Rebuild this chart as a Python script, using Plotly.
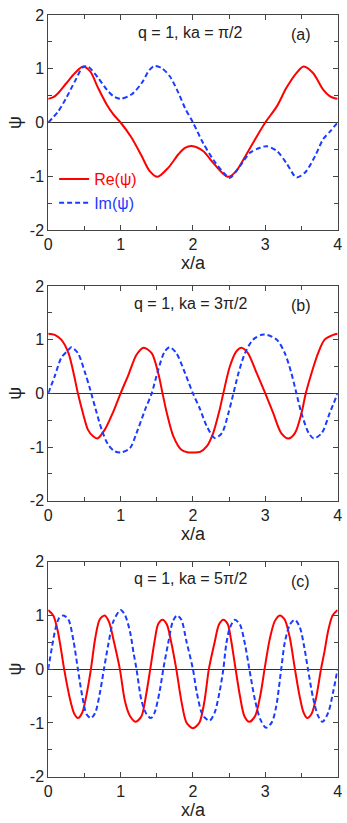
import plotly.graph_objects as go
from plotly.subplots import make_subplots

RED = "#ff0000"
BLUE = "#1a3cff"
FRAME = "#444444"
FONT = "Arial, 'Liberation Sans', sans-serif"

# ── panel (a): q = 1, ka = pi/2 ─────────────────────────────────────────────
A_RE_X = [0, 0.07, 0.14, 0.25, 0.37, 0.48, 0.58, 0.69, 0.81, 0.9,
          1.0, 1.15, 1.29, 1.4, 1.51, 1.66, 1.8, 1.89, 2.0,
          2.14, 2.28, 2.4, 2.49, 2.6, 2.74, 2.86, 3.0,
          3.16, 3.29, 3.43, 3.53, 3.66, 3.8, 3.89, 3.96, 4.0]
A_RE_Y = [0.44, 0.47, 0.55, 0.73, 0.92, 1.04, 0.95, 0.64, 0.33, 0.15,
          0.0, -0.28, -0.62, -0.9, -1.01, -0.84, -0.59, -0.47, -0.44,
          -0.53, -0.75, -0.93, -1.01, -0.9, -0.59, -0.31, 0.0,
          0.30, 0.64, 0.92, 1.04, 0.92, 0.61, 0.49, 0.45, 0.44]
A_IM_X = [0, 0.14, 0.25, 0.37, 0.48, 0.55, 0.69, 0.81, 0.9, 1.0,
          1.15, 1.29, 1.4, 1.47, 1.57, 1.68, 1.8, 1.89, 2.0,
          2.14, 2.28, 2.42, 2.51, 2.65, 2.79, 2.93, 3.02,
          3.16, 3.29, 3.43, 3.55, 3.69, 3.8, 3.9, 4.0]
A_IM_Y = [0, 0.21, 0.46, 0.77, 1.03, 1.04, 0.83, 0.61, 0.49, 0.44,
          0.52, 0.73, 0.98, 1.05, 1.01, 0.86, 0.55, 0.27, 0,
          -0.38, -0.69, -0.93, -1.03, -0.81, -0.56, -0.47, -0.44,
          -0.53, -0.75, -1.02, -0.93, -0.62, -0.31, -0.16, 0]

# ── panel (b): q = 1, ka = 3pi/2 ────────────────────────────────────────────
B_RE_X = [0, 0.09, 0.18, 0.28, 0.35, 0.41, 0.48, 0.55, 0.62, 0.68,
          0.78, 0.9, 1.0, 1.11, 1.22, 1.32, 1.43, 1.52, 1.58, 1.64,
          1.73, 1.84, 1.94, 2.0, 2.1, 2.19, 2.28, 2.37, 2.42, 2.51,
          2.6, 2.67, 2.76, 2.88, 3.0, 3.11, 3.22, 3.32, 3.41, 3.5,
          3.56, 3.64, 3.73, 3.82, 3.94, 4.0]
B_RE_Y = [1.11, 1.09, 1.0, 0.75, 0.38, 0, -0.37, -0.68, -0.80, -0.84,
          -0.68, -0.34, 0, 0.35, 0.72, 0.85, 0.75, 0.38, 0, -0.37,
          -0.80, -1.05, -1.10, -1.10, -1.09, -0.99, -0.74, -0.30, 0, 0.5,
          0.78, 0.85, 0.75, 0.38, 0, -0.37, -0.74, -0.84, -0.74, -0.37,
          0, 0.38, 0.75, 1.0, 1.09, 1.11]
B_IM_X = [0, 0.09, 0.18, 0.28, 0.32, 0.41, 0.51, 0.58, 0.65, 0.74,
          0.83, 0.92, 1.01, 1.13, 1.22, 1.34, 1.43, 1.52, 1.61, 1.68,
          1.77, 1.89, 2.0, 2.1, 2.19, 2.3, 2.4, 2.49, 2.56, 2.63,
          2.72, 2.83, 2.95, 3.02, 3.16, 3.27, 3.36, 3.43, 3.5, 3.6,
          3.67, 3.78, 3.89, 4.0]
B_IM_Y = [0, 0.32, 0.66, 0.81, 0.86, 0.75, 0.38, 0.07, -0.27, -0.68,
          -0.96, -1.08, -1.10, -1.02, -0.74, -0.30, 0, 0.44, 0.78, 0.86,
          0.75, 0.38, 0, -0.30, -0.61, -0.83, -0.74, -0.37, 0, 0.38,
          0.75, 1.0, 1.09, 1.09, 1.0, 0.75, 0.38, 0, -0.37, -0.74,
          -0.84, -0.74, -0.37, 0]

# ── panel (c): q = 1, ka = 5pi/2 ────────────────────────────────────────────
C_RE_X = [0, 0.07, 0.13, 0.18, 0.22, 0.30, 0.36, 0.41, 0.47, 0.53,
          0.59, 0.65, 0.71, 0.78, 0.84, 0.91, 0.99, 1.06, 1.13, 1.21,
          1.29, 1.35, 1.41, 1.47, 1.52, 1.58, 1.64, 1.70, 1.77, 1.84,
          1.91, 2.0, 2.09, 2.16, 2.22, 2.30, 2.36, 2.42, 2.48, 2.53,
          2.59, 2.65, 2.71, 2.78, 2.86, 2.93, 2.99, 3.06, 3.13, 3.2,
          3.27, 3.34, 3.41, 3.47, 3.53, 3.58, 3.64, 3.70, 3.77, 3.82,
          3.87, 3.93, 4.0]
C_RE_Y = [1.10, 1.0, 0.72, 0.34, 0, -0.55, -0.83, -0.91, -0.81, -0.47,
          0, 0.58, 0.92, 1.0, 0.88, 0.50, 0, -0.59, -0.87, -0.98,
          -0.87, -0.50, 0, 0.52, 0.84, 0.92, 0.83, 0.50, 0, -0.59,
          -0.99, -1.10, -0.99, -0.59, 0, 0.50, 0.83, 0.92, 0.84, 0.52,
          0, -0.50, -0.87, -0.98, -0.87, -0.50, 0, 0.55, 0.89, 1.0,
          0.92, 0.58, 0, -0.47, -0.81, -0.91, -0.83, -0.55, 0, 0.34,
          0.72, 1.0, 1.10]
C_IM_X = [0, 0.05, 0.10, 0.15, 0.21, 0.28, 0.35, 0.41, 0.47, 0.53,
          0.59, 0.65, 0.71, 0.77, 0.83, 0.90, 1.0, 1.06, 1.13, 1.18,
          1.22, 1.29, 1.36, 1.42, 1.47, 1.54, 1.59, 1.66, 1.72, 1.78,
          1.84, 1.91, 2.0, 2.05, 2.12, 2.17, 2.23, 2.30, 2.37, 2.42,
          2.46, 2.51, 2.58, 2.65, 2.72, 2.78, 2.86, 2.93, 3.01, 3.09,
          3.15, 3.22, 3.27, 3.34, 3.41, 3.48, 3.54, 3.59, 3.66, 3.73,
          3.79, 3.87, 3.94, 4.0]
C_IM_Y = [0, 0.40, 0.75, 0.95, 1.0, 0.92, 0.52, 0, -0.50, -0.84,
          -0.91, -0.81, -0.47, 0, 0.46, 0.89, 1.10, 1.01, 0.70, 0.30,
          0, -0.59, -0.84, -0.91, -0.81, -0.41, 0, 0.50, 0.88, 1.0,
          0.92, 0.52, 0, -0.41, -0.81, -0.91, -0.96, -0.81, -0.41, 0,
          0.46, 0.77, 0.92, 0.83, 0.46, 0, -0.59, -0.93, -1.09, -0.99,
          -0.70, 0, 0.50, 0.83, 0.92, 0.77, 0.40, 0, -0.53, -0.87,
          -0.98, -0.81, -0.41, 0]

PANEL_LABELS = ["q = 1, ka = π/2", "q = 1, ka = 3π/2", "q = 1, ka = 5π/2"]
PANEL_TAGS = ["(a)", "(b)", "(c)"]
X_TICKS = [0, 1, 2, 3, 4]
X_TICK_TEXT = ["0", "1", "2", "3", "4"]
Y_TICKS = [-2, -1, 0, 1, 2]
Y_TICK_TEXT = ["-2", "-1", "0", "1", "2"]

PANELS = [
    (A_RE_X, A_RE_Y, A_IM_X, A_IM_Y),
    (B_RE_X, B_RE_Y, B_IM_X, B_IM_Y),
    (C_RE_X, C_RE_Y, C_IM_X, C_IM_Y),
]

# plot-area placement (paper fractions)
X_DOMAIN = [0.139, 0.973]
Y_DOMAINS = [[0.7205, 0.9818], [0.3916, 0.6525], [0.0563, 0.3175]]

fig = make_subplots(rows=3, cols=1)

for i, (rx, ry, ix, iy) in enumerate(PANELS):
    first = i == 0
    fig.add_trace(go.Scatter(
        x=rx, y=ry, mode="lines",
        name=f"<span style='color:{RED}'>Re(ψ)</span>",
        line=dict(color=RED, width=2, shape="spline", smoothing=0.8),
        showlegend=first,
    ), row=i + 1, col=1)
    fig.add_trace(go.Scatter(
        x=ix, y=iy, mode="lines",
        name=f"<span style='color:{BLUE}'>Im(ψ)</span>",
        line=dict(color=BLUE, width=2, dash="5px,3px", shape="spline", smoothing=0.8),
        showlegend=first,
    ), row=i + 1, col=1)

    fig.add_annotation(x=1.96, y=1.68, xref=f"x{i + 1}", yref=f"y{i + 1}",
                       text=PANEL_LABELS[i], showarrow=False,
                       font=dict(size=16, color="#222"))
    fig.add_annotation(x=3.49, y=1.63, xref=f"x{i + 1}", yref=f"y{i + 1}",
                       text=PANEL_TAGS[i], showarrow=False,
                       font=dict(size=16, color="#222"))

    fig.update_xaxes(
        domain=X_DOMAIN, range=[0, 4],
        tickmode="array", tickvals=X_TICKS, ticktext=X_TICK_TEXT,
        minor=dict(ticks="inside", ticklen=4, tickcolor=FRAME, tick0=0, dtick=0.5),
        title=dict(text="x/a", font=dict(size=18, color="#222"), standoff=1),
        row=i + 1, col=1,
    )
    fig.update_yaxes(
        domain=Y_DOMAINS[i], range=[-2, 2],
        tickmode="array", tickvals=Y_TICKS, ticktext=Y_TICK_TEXT,
        minor=dict(ticks="inside", ticklen=4, tickcolor=FRAME, tick0=0, dtick=0.5),
        zeroline=True, zerolinecolor="#333333", zerolinewidth=1,
        title=dict(text="ψ", font=dict(size=18, color="#222"), standoff=3),
        row=i + 1, col=1,
    )

fig.update_xaxes(showline=True, linecolor=FRAME, linewidth=1, mirror="ticks",
                 ticks="inside", ticklen=5, tickcolor=FRAME, showgrid=False,
                 zeroline=False, automargin=False,
                 tickfont=dict(size=16, color="#222"))
fig.update_yaxes(showline=True, linecolor=FRAME, linewidth=1, mirror="ticks",
                 ticks="inside", ticklen=5, tickcolor=FRAME, showgrid=False,
                 automargin=False, tickfont=dict(size=16, color="#222"))

fig.update_layout(
    width=347, height=823,
    margin=dict(l=0, r=0, t=0, b=0),
    paper_bgcolor="white", plot_bgcolor="white",
    font=dict(family=FONT, size=16, color="#222"),
    legend=dict(x=0.156, y=0.803, xanchor="left", yanchor="top",
                bgcolor="rgba(0,0,0,0)", font=dict(size=16),
                tracegroupgap=0, itemwidth=30),
)

# drop the default 8px page margin so the 347x823 figure fills the window
fig.write_html("out.html", config={"displayModeBar": False},
               post_script="document.body.style.margin = '0';")
